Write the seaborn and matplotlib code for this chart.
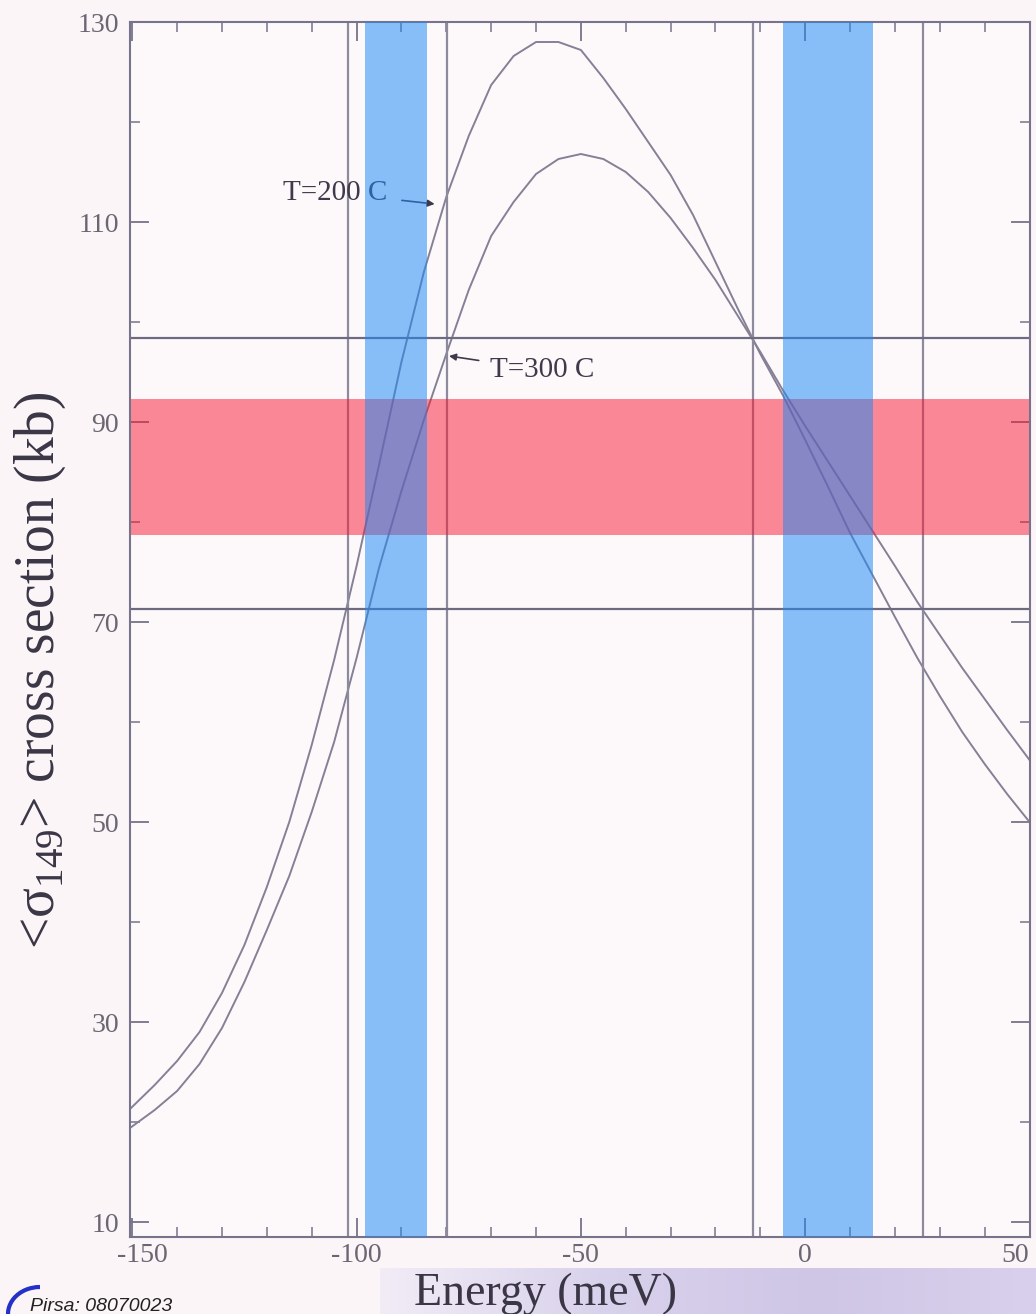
import numpy as np
import pandas as pd
import matplotlib
matplotlib.use('Agg')
import matplotlib.pyplot as plt
import matplotlib.transforms as mtransforms
from matplotlib.ticker import MultipleLocator
from matplotlib.patches import Arc
from matplotlib.colors import LinearSegmentedColormap
import seaborn as sns

# Valores (energia em meV, secção eficaz em kb)
energy = [-150.5, -145, -140, -135, -130, -125, -120, -115, -110, -105, -100,
          -95, -90, -85, -80, -75, -70, -65, -60, -55, -50, -45, -40, -35,
          -30, -25, -20, -15, -10, -5, 0, 5, 10, 15, 20, 25, 30, 35, 40, 45, 50]
sigma_200 = [21.3, 23.7, 26.1, 29.0, 32.9, 37.7, 43.5, 50.0, 57.7, 66.2, 75.6,
             85.7, 96.0, 105.0, 112.5, 118.6, 123.7, 126.6, 128.0, 128.0, 127.2,
             124.4, 121.3, 118.0, 114.7, 110.7, 106.0, 101.3, 96.8, 92.7, 88.2,
             83.6, 78.9, 74.7, 70.5, 66.4, 62.6, 59.0, 55.8, 52.8, 50.0]
sigma_300 = [19.4, 21.2, 23.1, 25.8, 29.4, 34.0, 39.2, 44.6, 51.0, 58.0, 66.4,
             75.4, 83.1, 90.2, 96.8, 103.2, 108.6, 112.0, 114.8, 116.3, 116.8,
             116.3, 115.0, 113.0, 110.4, 107.4, 104.2, 100.6, 97.0, 93.2, 89.6,
             86.1, 82.6, 79.1, 75.6, 72.0, 68.7, 65.4, 62.3, 59.2, 56.2]

x_lines = [-102.0, -79.8, -11.6, 26.2]
y_lines = [98.4, 71.3]
blue_bands = [(-98.2, -84.2), (-4.9, 15.1)]
red_band = (78.7, 92.3)
x_ticks = [-150, -100, -50, 0, 50]
y_ticks = [10, 30, 50, 70, 90, 110, 130]

df = pd.DataFrame({'energy': energy, 'T200': sigma_200, 'T300': sigma_300})

sns.set_style('ticks')
plt.rcParams['font.family'] = ['Liberation Serif', 'DejaVu Serif']
plt.rcParams['mathtext.fontset'] = 'custom'
plt.rcParams['mathtext.rm'] = 'Liberation Serif'
plt.rcParams['axes.unicode_minus'] = False

bg = '#FBF5F8'
fig = plt.figure(figsize=(10.36, 13.14), dpi=100, facecolor=bg)

# faixa lilás do rodapé (slide)
strip = fig.add_axes([380/1036, 0, 1 - 380/1036, 46/1314])
grad = np.linspace(0, 1, 256).reshape(1, -1)
cm = LinearSegmentedColormap.from_list('strip', ['#F1ECF6', '#D9D2EC', '#CFC6E6', '#D8D0EC'])
strip.imshow(grad, aspect='auto', cmap=cm, extent=[0, 1, 0, 1])
strip.axis('off')

ax = fig.add_axes([130/1036, 1 - 1237/1314, 900/1036, (1237 - 22)/1314])
ax.set_facecolor('#FDF9FB')

line_col = '#858096'
sns.lineplot(data=df, x='energy', y='T200', ax=ax, color=line_col, lw=1.4, zorder=1)
sns.lineplot(data=df, x='energy', y='T300', ax=ax, color=line_col, lw=1.4, zorder=1)

for xv in x_lines:
    ax.axvline(xv, color='#8E8A9E', lw=1.6, zorder=1)
for yv in y_lines:
    ax.axhline(yv, color='#6E6A80', lw=1.6, zorder=1)

ax.axhspan(red_band[0], red_band[1], color='#F81632', alpha=0.5, lw=0, zorder=2)
for lo, hi in blue_bands:
    ax.axvspan(lo, hi, color='#1E88F4', alpha=0.52, lw=0, zorder=3)

txt_col = '#3E3A4C'
ax.annotate('T=200 C', xy=(-82.6, 111.8), xytext=(-93.1, 112.9),
            ha='right', va='center', fontsize=21, color=txt_col, zorder=1,
            arrowprops=dict(arrowstyle='-|>', color='#3E3A4C', lw=1.2,
                            mutation_scale=10, shrinkA=8, shrinkB=0))
ax.annotate('T=300 C', xy=(-79.4, 96.6), xytext=(-70.2, 95.2),
            ha='left', va='center', fontsize=21, color=txt_col, zorder=1,
            arrowprops=dict(arrowstyle='-|>', color='#3E3A4C', lw=1.2,
                            mutation_scale=10, shrinkA=6, shrinkB=0))

ax.set_xlim(-150.5, 50.1)
ax.set_ylim(8.5, 130)
ax.set_xticks(x_ticks)
ax.set_yticks(y_ticks)
ax.xaxis.set_minor_locator(MultipleLocator(10))
ax.yaxis.set_minor_locator(MultipleLocator(10))
ax.tick_params(which='both', direction='in', top=True, right=True,
               color='#77738A', labelcolor='#6A6672', labelsize=20)
ax.tick_params(which='major', length=14, width=1.3)
ax.tick_params(which='minor', length=7, width=1.1)
ax.tick_params(axis='x', pad=4)
ax.tick_params(axis='y', pad=8)
for s in ax.spines.values():
    s.set_color('#77738A')
    s.set_linewidth(1.5)
ax.set_xlabel('')
ax.set_ylabel('')

# desloca os rótulos das pontas para dentro da figura
xlabels = ax.get_xticklabels()
xlabels[0].set_transform(xlabels[0].get_transform() +
                         mtransforms.ScaledTranslation(10/100, 0, fig.dpi_scale_trans))
xlabels[-1].set_transform(xlabels[-1].get_transform() +
                          mtransforms.ScaledTranslation(-14/100, 0, fig.dpi_scale_trans))

fig.text(546/1036, 9/1314, 'Energy (meV)', ha='center', va='baseline',
         fontsize=33, color='#3A3646')
fig.text(40/1036, 1 - 670/1314, '<σ$_{149}$> cross section (kb)', rotation=90,
         ha='center', va='center', fontsize=40, color='#3A3646')

# logo Pirsa no canto
fig.text(30/1036, 1 - 1298/1314, 'Pirsa: 08070023', ha='left', va='top',
         fontsize=14, style='italic', family='Liberation Sans', color='#222222')
logo = fig.add_axes([0, 0, 40/1036, 30/1314])
logo.add_patch(Arc((1.0, 0.0), 1.6, 1.8, theta1=90, theta2=200, color='#2530C8', lw=3))
logo.set_xlim(0, 1)
logo.set_ylim(0, 1)
logo.axis('off')

fig.savefig('out.png', dpi=100, facecolor=bg)
